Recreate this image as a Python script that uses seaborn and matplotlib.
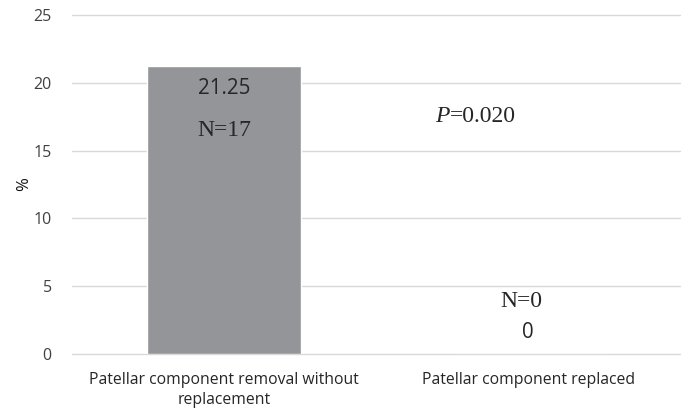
import matplotlib
matplotlib.use("Agg")
import matplotlib.pyplot as plt
import seaborn as sns
import pandas as pd

categories = ["Patellar component removal without\nreplacement", "Patellar component replaced"]
values = [21.25, 0]
n_labels = ["N=17", "N=0"]
value_labels = ["21.25", "0"]
p_letter = "P"
p_text = "=0.020"
y_ticks = [0, 5, 10, 15, 20, 25]

sns.set_theme(style="white")
plt.rcParams["font.family"] = ["Open Sans", "DejaVu Sans"]

df = pd.DataFrame({"cat": categories, "val": values})

fig = plt.figure(figsize=(6.86, 4.11), dpi=100)
ax = fig.add_axes([72/686, 1 - 354/411, 608/686, (354 - 15)/411])
sns.barplot(data=df, x="cat", y="val", color="#939598", width=0.505, ax=ax, saturation=1)

ax.set_ylim(0, 25)
ax.set_xlim(-0.5, 1.5)
ax.set_yticks(y_ticks)
ax.yaxis.grid(True, color="#d9d9d9", linewidth=1)
for gl in ax.yaxis.get_gridlines():
    gl.set_clip_on(False)
ax.set_axisbelow(True)
for s in ax.spines.values():
    s.set_visible(False)
ax.tick_params(axis="y", length=0, labelsize=11.5, colors="#404040", pad=14.5)
ax.tick_params(axis="x", length=0, labelsize=11.3, colors="#262626", pad=13)
for lbl in ax.get_xticklabels():
    lbl.set_linespacing(1.3)
ax.set_xlabel("")
ax.set_ylabel("%", fontsize=12, color="#111111")
ax.yaxis.set_label_coords(-0.066, 0.5)

serif = ["Liberation Serif", "DejaVu Serif"]
tc = "#262626"
ax.text(0, 19.6, value_labels[0], ha="center", va="center", fontsize=14.8, color=tc)
ax.text(0, 16.5, n_labels[0], ha="center", va="center", fontsize=17, family=serif, color=tc)
ax.text(0.977, 3.9, n_labels[1], ha="center", va="center", fontsize=17, family=serif, color=tc)
ax.text(1, 1.55, value_labels[1], ha="center", va="center", fontsize=14.8, color=tc)
ax.text(0.742, 17.55, p_letter, ha="right", va="center", fontsize=17, family=serif, style="italic", color=tc)
ax.text(0.742, 17.55, p_text, ha="left", va="center", fontsize=17, family=serif, color=tc)

fig.savefig("out.png", dpi=100)
